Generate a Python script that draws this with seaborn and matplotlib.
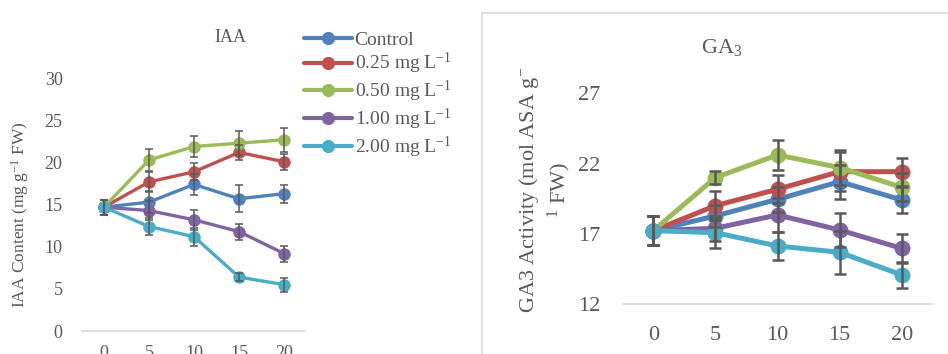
import matplotlib
matplotlib.use("Agg")
import matplotlib.pyplot as plt
import matplotlib.patches as mpatches
from matplotlib.lines import Line2D
import seaborn as sns
import pandas as pd
import numpy as np

# ---------------- data ----------------
days = [0, 5, 10, 15, 20]
series_names = ["Control", "0.25 mg L$^{-1}$", "0.50 mg L$^{-1}$", "1.00 mg L$^{-1}$", "2.00 mg L$^{-1}$"]
colors = ["#4F81BD", "#C0504D", "#9BBB59", "#8064A2", "#4BACC6"]

iaa_control = [14.7, 15.3, 17.4, 15.7, 16.3]
iaa_025 = [14.7, 17.7, 18.9, 21.2, 20.1]
iaa_050 = [14.7, 20.3, 21.9, 22.3, 22.7]
iaa_100 = [14.7, 14.3, 13.2, 11.8, 9.2]
iaa_200 = [14.7, 12.4, 11.2, 6.4, 5.5]

iaa_err_control = [0.9, 1.3, 1.25, 1.6, 1.05]
iaa_err_025 = [0.9, 1.2, 1.0, 0.9, 0.95]
iaa_err_050 = [0.9, 1.3, 1.2, 1.4, 1.4]
iaa_err_100 = [0.9, 1.1, 1.2, 0.95, 0.95]
iaa_err_200 = [0.9, 1.0, 1.05, 0.5, 0.85]

ga_control = [17.22, 18.27, 19.45, 20.71, 19.41]
ga_025 = [17.22, 19.0, 20.17, 21.42, 21.42]
ga_050 = [17.22, 21.0, 22.61, 21.71, 20.31]
ga_100 = [17.22, 17.39, 18.34, 17.27, 15.96]
ga_200 = [17.22, 17.08, 16.13, 15.68, 14.07]

ga_err_control = [1.05, 0.8, 0.9, 1.2, 0.9]
ga_err_025 = [1.05, 1.05, 1.0, 1.4, 1.0]
ga_err_050 = [1.05, 0.45, 1.1, 1.25, 1.0]
ga_err_100 = [1.05, 0.9, 1.2, 1.2, 1.05]
ga_err_200 = [1.05, 1.07, 1.0, 1.55, 0.95]

iaa_ticks = [0, 5, 10, 15, 20, 25, 30]
ga_ticks = [12, 17, 22, 27]

iaa_vals = [iaa_control, iaa_025, iaa_050, iaa_100, iaa_200]
iaa_errs = [iaa_err_control, iaa_err_025, iaa_err_050, iaa_err_100, iaa_err_200]
ga_vals = [ga_control, ga_025, ga_050, ga_100, ga_200]
ga_errs = [ga_err_control, ga_err_025, ga_err_050, ga_err_100, ga_err_200]

# ---------------- style ----------------
sns.set_theme(style="white")
plt.rcParams['font.family'] = ['Liberation Serif', 'DejaVu Serif']
plt.rcParams['mathtext.fontset'] = 'custom'
plt.rcParams['mathtext.rm'] = 'Liberation Serif'
plt.rcParams['mathtext.it'] = 'Liberation Serif:italic'
plt.rcParams['mathtext.bf'] = 'Liberation Serif:bold'
TXT = "#595959"
GRID = "#d9d9d9"

W, H = 948, 354
fig = plt.figure(figsize=(W / 100, H / 100), dpi=100)


def px_axes(x0, x1, ytop, ybot):
    return fig.add_axes([x0 / W, (H - ybot) / H, (x1 - x0) / W, (ybot - ytop) / H])


def make_long(vals):
    rows = []
    for name, v in zip(series_names, vals):
        for d, y in zip(days, v):
            rows.append({"day": d, "value": y, "series": name})
    return pd.DataFrame(rows)


def draw(ax, vals, errs, lw, ms, elw, cap):
    df = make_long(vals)
    sns.lineplot(data=df, x="day", y="value", hue="series", hue_order=series_names,
                 palette=colors, marker="o", markersize=ms, markeredgewidth=0,
                 linewidth=lw, ax=ax, legend=False, errorbar=None, zorder=2)
    for v, e in zip(vals, errs):
        ax.errorbar(days, v, yerr=e, fmt="none", ecolor="#595959", elinewidth=elw,
                    capsize=cap, capthick=elw, zorder=3)
    for s in ["top", "left", "right"]:
        ax.spines[s].set_visible(False)
    ax.spines["bottom"].set_color(GRID)
    ax.spines["bottom"].set_linewidth(1.2)
    ax.set_xlabel("")
    ax.set_ylabel("")
    ax.tick_params(length=0, colors=TXT)
    ax.set_facecolor("none")


# left panel
ax1 = px_axes(82, 305, 78.3, 331)
draw(ax1, iaa_vals, iaa_errs, lw=2.4, ms=9, elw=1.1, cap=2.6)
ax1.set_xlim(-22 / 9, 20 + 21 / 9)
ax1.set_ylim(0, 30)
ax1.set_yticks(iaa_ticks)
ax1.set_xticks(days)
ax1.tick_params(axis="y", labelsize=13, pad=14)
ax1.tick_params(axis="x", labelsize=13, pad=10)
fig.text(230 / W, 1 - 37 / H, "IAA", ha="center", va="center", fontsize=13, color=TXT)
fig.text(20 / W, 1 - 215 / H, "IAA Content (mg g$^{-1}$ FW)", rotation=90, ha="center",
         va="center", fontsize=12.5, color=TXT)

# right panel
ax2 = px_axes(622.7, 932, 93.3, 304)
draw(ax2, ga_vals, ga_errs, lw=3.6, ms=11.5, elw=1.8, cap=4.2)
ax2.set_xlim(-30.6 / 12.42, 20 + 30.3 / 12.42)
ax2.set_ylim(12, 27)
ax2.set_yticks(ga_ticks)
ax2.set_xticks(days)
ax2.tick_params(axis="y", labelsize=16, pad=16)
ax2.tick_params(axis="x", labelsize=16, pad=16)
fig.text(722 / W, 1 - 48 / H, "GA$_3$", ha="center", va="center", fontsize=16, color=TXT)
fig.text(545 / W, 1 - 190 / H, "GA3 Activity (mol ASA g$^{-}$\n$^{1}$ FW)", rotation=90,
         ha="center", va="center", fontsize=16, color=TXT, linespacing=1.25)

# border of right chart
fig.patches.append(mpatches.Rectangle((482 / W, -0.1), 0.6, 1 - 12.7 / H + 0.1,
                                      transform=fig.transFigure, fill=False,
                                      edgecolor=GRID, linewidth=1.2, zorder=0))

# legend
handles = [Line2D([0], [0], color=c, lw=3.0, marker="o", markersize=9.5,
                  markeredgewidth=0) for c in colors]
leg = fig.legend(handles, series_names, loc="upper left",
                 bbox_to_anchor=(304 / W, 1 - 31 / H), frameon=False,
                 fontsize=14, handlelength=2.45, handletextpad=0.15,
                 labelspacing=0.13, borderaxespad=0, borderpad=0)
for t in leg.get_texts():
    t.set_color(TXT)

fig.savefig("out.png", dpi=100)
